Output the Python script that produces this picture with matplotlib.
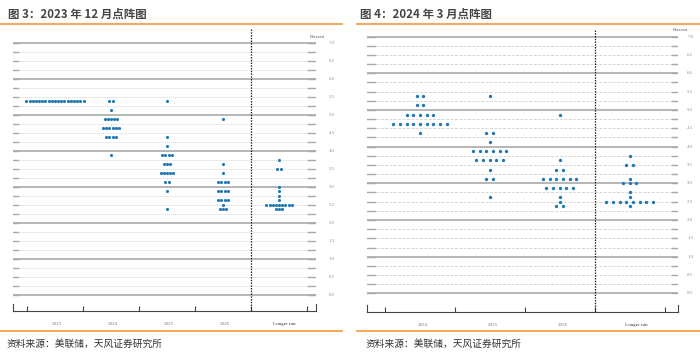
import numpy as np
import matplotlib.pyplot as plt
from matplotlib.lines import Line2D
from matplotlib.transforms import blended_transform_factory

plt.rcParams['font.family'] = ['Noto Sans CJK SC', 'DejaVu Sans']

# 点阵图数据（利率中值: 人数）
dec_cols = ['2023', '2024', '2025', '2026', 'Longer run']
dec_2023 = {5.375: 19}
dec_2024 = {5.375: 2, 5.125: 1, 4.875: 5, 4.625: 6, 4.375: 4, 3.875: 1}
dec_2025 = {5.375: 1, 4.375: 1, 4.125: 1, 3.875: 4, 3.625: 3, 3.375: 5,
            3.125: 2, 2.875: 1, 2.375: 1}
dec_2026 = {4.875: 1, 3.625: 1, 3.375: 1, 3.125: 4, 2.875: 4, 2.625: 4,
            2.5: 1, 2.375: 3}
dec_lr = {3.75: 1, 3.5: 2, 3.0: 1, 2.875: 1, 2.75: 1, 2.625: 1, 2.5: 9, 2.375: 3}

mar_cols = ['2024', '2025', '2026', 'Longer run']
mar_2024 = {5.375: 2, 5.125: 2, 4.875: 5, 4.625: 9, 4.375: 1}
mar_2025 = {5.375: 1, 4.375: 2, 4.125: 1, 3.875: 6, 3.625: 5, 3.375: 1,
            3.125: 2, 2.625: 1}
mar_2026 = {4.875: 1, 3.625: 1, 3.375: 2, 3.125: 6, 2.875: 5, 2.625: 1,
            2.5: 1, 2.375: 2}
mar_lr = {3.75: 1, 3.5: 2, 3.125: 1, 3.0: 3, 2.75: 1, 2.625: 1, 2.5: 8, 2.375: 1}

W, H = 700, 359
fig = plt.figure(figsize=(W / 100, H / 100), dpi=100)
fig.patch.set_facecolor('white')
ORANGE = '#f5a04a'
BLUE = '#1f78b4'


def px_axes(l, r, t, b):
    return fig.add_axes([l / W, 1 - b / H, (r - l) / W, (b - t) / H])


def hline_px(x0, x1, y):
    fig.add_artist(Line2D([x0 / W, x1 / W], [1 - y / H] * 2, color=ORANGE, lw=1.3))


def draw_panel(ax, cols, data, xlim, ylim, spacing, s, ylab_x, stubs, dash, vline):
    ax.set_xlim(*xlim)
    ax.set_ylim(*ylim)
    ax.set_facecolor('none')
    # 网格线
    for v in np.arange(0, 7.01, 0.25):
        if abs(v - round(v)) < 1e-9:
            ax.axhline(v, color='#a3a3a3', lw=1.1, zorder=1)
        else:
            ax.axhline(v, color='#d6d6d6', lw=0.7, ls=dash, zorder=1)
        ax.axhline(v, xmin=0, xmax=stubs[0], color='#a8a8a8', lw=1.0, zorder=2)
        ax.axhline(v, xmin=stubs[1], xmax=1, color='#a8a8a8', lw=1.0, zorder=2)
    tr_y = blended_transform_factory(ax.transAxes, ax.transData)
    for v in np.arange(0, 7.01, 0.5):
        ax.text(ylab_x, v, f'{v:.1f}', transform=tr_y, fontsize=3.4,
                family='Liberation Serif', color='#8a8a8a', ha='center', va='center')
    # 点
    for i, col in enumerate(data):
        xs, ys = [], []
        for rate, n in col.items():
            for k in range(n):
                xs.append(i + 1 + (k - (n - 1) / 2) * spacing)
                ys.append(rate)
        ax.scatter(xs, ys, s=s, color=BLUE, linewidths=0, zorder=4)
    ax.axvline(vline, color='#222222', lw=0.9, ls=(0, (1.2, 1.0)), zorder=3)
    # 坐标轴
    for side in ['top', 'left', 'right']:
        ax.spines[side].set_visible(False)
    ax.spines['bottom'].set_color('#444444')
    ax.spines['bottom'].set_linewidth(0.8)
    for xb in (0, 1):
        ax.plot([xb, xb], [0, 0.025], transform=ax.transAxes, color='#444444',
                lw=0.8, clip_on=False)
    ax.set_xticks(np.arange(0.5, len(cols) + 0.6, 1))
    ax.tick_params(axis='x', direction='in', length=3.5, width=0.8, color='#444444',
                   labelbottom=False)
    ax.set_yticks([])
    tr_x = blended_transform_factory(ax.transData, ax.transAxes)
    for i, c in enumerate(cols):
        ax.text(i + 1 + (0.1 if c == 'Longer run' else 0.04), -0.046, c,
                transform=tr_x, fontsize=3.6, family='Liberation Serif',
                color='#333333' if c == 'Longer run' else '#777777',
                ha='center', va='center')


# 左图：2023 年 12 月
ax1 = px_axes(12.7, 316, 28, 311)
draw_panel(ax1, dec_cols, [dec_2023, dec_2024, dec_2025, dec_2026, dec_lr],
           (0.245, 5.66), (-0.453, 7.408), 0.0566, 5.0, 1.053, (0.017, 0.974),
           (0, (1, 1)), 4.5)
fig.text(317 / W, 1 - 37 / H, 'Percent', fontsize=3.6, family='Liberation Serif',
         color='#555555', ha='center', va='center')

# 右图：2024 年 3 月
ax2 = px_axes(366.7, 678, 30, 311.7)
draw_panel(ax2, mar_cols, [mar_2024, mar_2025, mar_2026, mar_lr],
           (0.24, 4.69), (-0.50, 7.18), 0.0953, 5.8, 1.039, (0.026, 0.98),
           (0, (3, 1.5)), 3.5)
fig.text(680 / W, 1 - 30 / H, 'Percent', fontsize=3.6, family='Liberation Serif',
         color='#555555', ha='center', va='center')

# 标题与来源
fig.text(8 / W, 1 - 14 / H, '图 3：2023 年 12 月点阵图', fontsize=8.3,
         fontweight='bold', color='#454545', va='center')
fig.text(360 / W, 1 - 14 / H, '图 4：2024 年 3 月点阵图', fontsize=8.3,
         fontweight='bold', color='#454545', va='center')
hline_px(0, 342, 24)
hline_px(357, 700, 24)
hline_px(0, 342, 331)
hline_px(357, 700, 331)
fig.text(7 / W, 1 - 344 / H, '资料来源：美联储，天风证券研究所', fontsize=7,
         color='#333333', va='center')
fig.text(366 / W, 1 - 344 / H, '资料来源：美联储，天风证券研究所', fontsize=7,
         color='#333333', va='center')

fig.savefig('out.png', dpi=100)
